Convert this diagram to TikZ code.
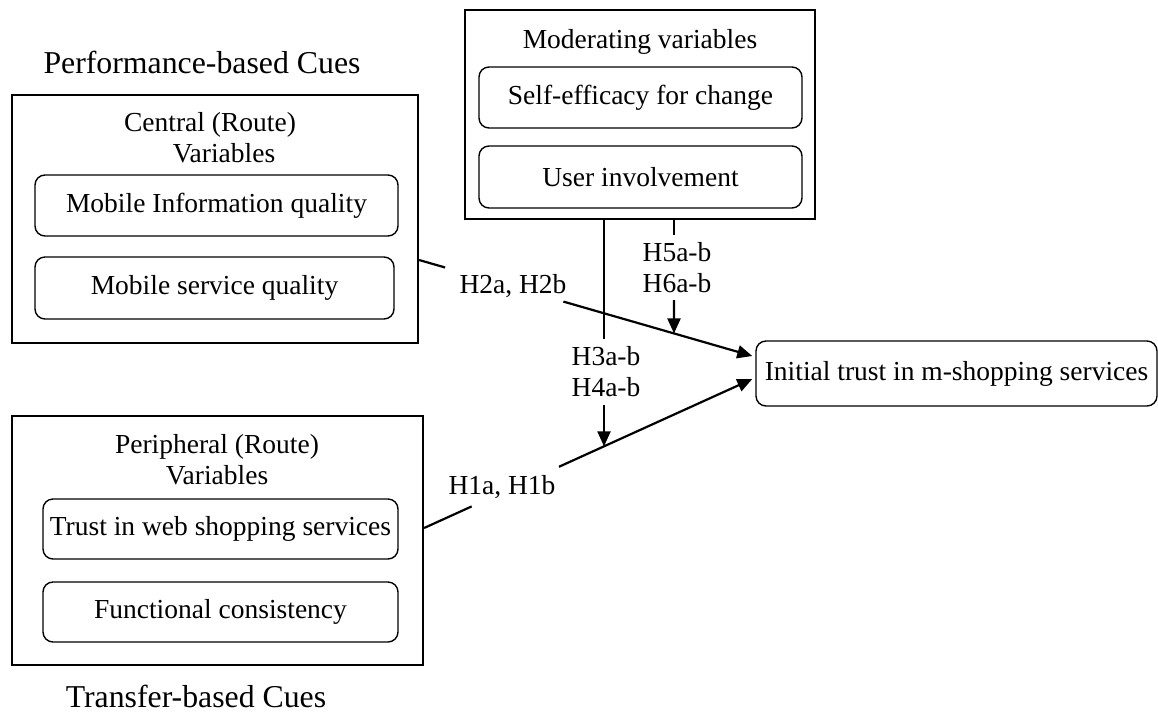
\documentclass[tikz,border=0pt]{standalone}
\usepackage{fontspec}
\setmainfont{Liberation Serif}
\usetikzlibrary{arrows.meta,calc}
\begin{document}
\begin{tikzpicture}[x=1pt,y=-1pt,
  txt/.style={font=\fontsize{27.5}{31}\selectfont, inner sep=0pt, align=center},
  title/.style={font=\fontsize{31.8}{36}\selectfont, inner sep=0pt},
  outerbox/.style={draw, line width=2.2pt, rectangle, inner sep=0pt},
  innerbox/.style={draw, line width=1.4pt, rounded corners=10pt, rectangle, inner sep=0pt, font=\fontsize{27.5}{31}\selectfont},
  conn/.style={line width=2.2pt},
  arr/.style={conn, -{Triangle[length=15pt,width=13pt]}}]
\useasboundingbox (0,0) rectangle (1158,713);

% titles
\node[title] (perf) at (202,62) {Performance-based Cues};
\node[title, anchor=base] (transf) at (196,707) {Transfer-based Cues};

% central box
\node[outerbox, minimum width=406pt, minimum height=248pt] (central) at (215,219) {};
\node[txt] (centraltitle) at (210,138) {Central (Route)\\\hspace*{28pt}Variables};
\node[innerbox, minimum width=363pt, minimum height=61pt] (miq) at (216.5,205.5) {Mobile Information quality};
\node[innerbox, minimum width=359pt, minimum height=62pt] (msq) at (214.5,288) {Mobile service quality};

% peripheral box
\node[outerbox, minimum width=411pt, minimum height=249pt] (periph) at (217.5,540.5) {};
\node[txt] (periphtitle) at (217,460) {Peripheral (Route)\\Variables};
\node[innerbox, minimum width=355pt, minimum height=60pt] (tws) at (220.5,529) {Trust in web shopping services};
\node[innerbox, minimum width=355pt, minimum height=60pt] (fc) at (220.5,612) {Functional consistency};

% moderating box
\node[outerbox, minimum width=350pt, minimum height=209pt] (moder) at (640,114.5) {};
\node[txt] (modertitle) at (640,42) {Moderating variables};
\node[innerbox, minimum width=323pt, minimum height=61pt] (self) at (640.5,97.5) {Self-efficacy for change};
\node[innerbox, minimum width=323pt, minimum height=62pt] (ui) at (640.5,177) {User involvement};

% outcome
\node[innerbox, minimum width=401pt, minimum height=65pt] (initial) at (956.5,373.5) {Initial trust in m-shopping services};

% connector end points
\coordinate (h2s) at ([yshift=-41pt]central.east);
\coordinate (h2e) at ([xshift=-3pt,yshift=17.5pt]initial.west);
\coordinate (h1s) at ([yshift=12.5pt]periph.east);
\coordinate (h1e) at ([xshift=-3pt,yshift=-5.5pt]initial.west);

% H2
\node[txt] (h2l) at (513,286) {H2a, H2b};
\draw[conn] (h2s) -- ($(h2s)!0.078!(h2e)$);
\draw[arr] ($(h2s)!0.433!(h2e)$) -- (h2e);

% H1
\node[txt] (h1l) at (502,487) {H1a, H1b};
\draw[conn] (h1s) -- ($(h1s)!0.145!(h1e)$);
\draw[arr] ($(h1s)!0.411!(h1e)$) -- (h1e);

% H3/H4 moderation onto H1
\coordinate (h3s) at ([xshift=-36pt]moder.south);
\coordinate (h3x) at ([xshift=-36pt,yshift=-400pt]moder.south);
\coordinate (h3e) at (intersection of h1s--h1e and h3s--h3x);
\node[txt, minimum height=66pt] (h3l) at (606,372) {H3a-b\\H4a-b};
\draw[conn] (h3s) -- (h3s |- h3l.north);
\draw[arr] (h3s |- h3l.south) -- (h3e);

% H5/H6 moderation onto H2
\coordinate (h5s) at ([xshift=34pt]moder.south);
\coordinate (h5x) at ([xshift=34pt,yshift=-400pt]moder.south);
\coordinate (h5e) at (intersection of h2s--h2e and h5s--h5x);
\node[txt, minimum height=65pt] (h5l) at (677,267.5) {H5a-b\\H6a-b};
\draw[conn] (h5s) -- (h5s |- h5l.north);
\draw[arr] (h5s |- h5l.south) -- (h5e);
\end{tikzpicture}
\end{document}
